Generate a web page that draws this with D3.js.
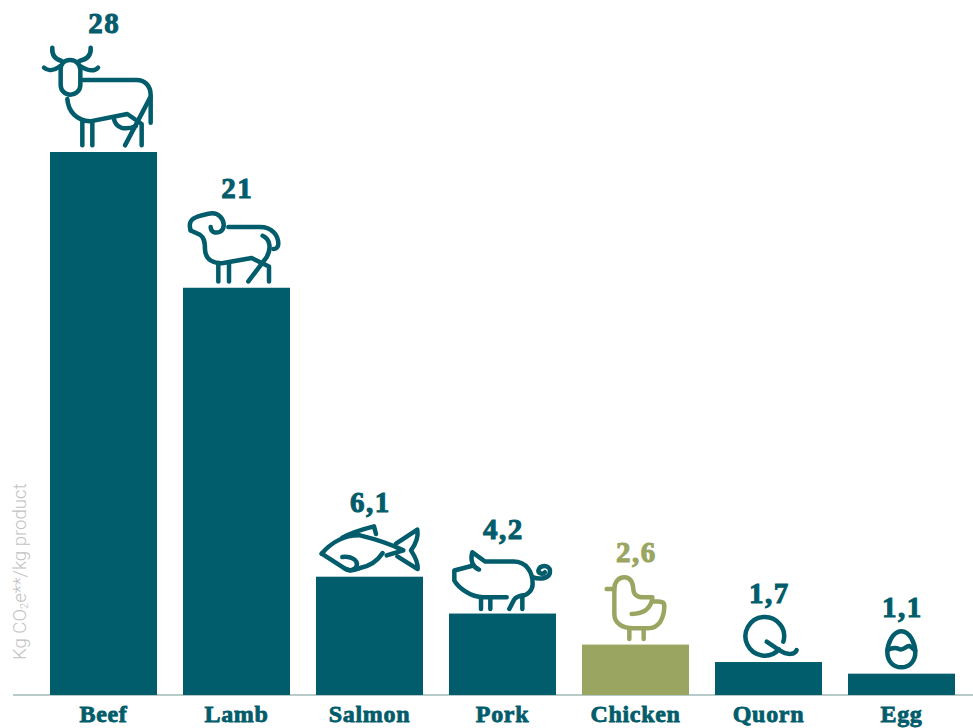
<!DOCTYPE html>
<html>
<head>
<meta charset="utf-8">
<script src="https://cdn.jsdelivr.net/npm/d3@7"></script>
<style>
  html, body { margin: 0; padding: 0; background: #fff; }
  svg { display: block; }
</style>
</head>
<body>
<svg id="chart" width="973" height="728"></svg>
<script>
// Greenhouse gas footprint per kilogram of product
const categories = ["Beef", "Lamb", "Salmon", "Pork", "Chicken", "Quorn", "Egg"];
const footprint = [28, 21, 6.1, 4.2, 2.6, 1.7, 1.1];
const highlighted = ["Chicken"];
const yTitleParts = ["Kg CO", "2", "e**/kg product"];

const TEAL = "#015c6b";
const OLIVE = "#9aa562";

// Pictogram outlines, drawn on a 3x grid and placed relative to each bar's top centre
const icons = {
  Beef: { dx: -73.5, dy: -152, paths: [
    "M120 180C100 180 92 195 92 210V255C92 272 105 284 121 284C137 284 151 272 151 255V210C151 195 140 180 120 180Z",
    "M67 143C65 165 75 178 95 183", "M182 143C184 165 172 178 148 183",
    "M42 203C55 215 75 210 92 197", "M204 203C190 218 170 210 152 199",
    "M152 240H320C345 240 362 258 362 285V368",
    "M112 297C115 335 140 362 180 364L292 342L335 372V436",
    "M285 436L362 290", "M157 364V436", "M187 364V436",
    "M252 358C258 385 285 392 318 378"
  ]},
  Lamb: { dx: -66.5, dy: -118, paths: [
    "M62 182C55 160 62 147 85 140C110 132 135 124 150 140C165 155 165 178 150 186C135 192 122 186 122 172",
    "M62 182L90 195C102 203 105 215 105 240C107 270 130 282 160 280L245 265L297 290V335",
    "M175 172H270C305 172 325 195 325 222C325 232 318 238 310 238",
    "M278 198C300 208 305 235 290 262L235 335",
    "M145 280V335", "M177 280V335"
  ]},
  Salmon: { dx: -59.5, dy: -97, paths: [
    "M35 222C60 192 100 166 150 167C195 178 240 192 280 212L230 227",
    "M97 174C125 158 160 148 192 140L198 163",
    "M258 192L322 150C326 175 316 195 303 212C316 232 325 250 323 268L262 230",
    "M35 222L105 267C120 277 135 270 150 265C185 258 205 240 218 220",
    "M97 232C120 228 145 240 140 258C137 270 118 276 105 267"
  ]},
  Pork: { dx: -192.5, dy: -133, paths: [
    "M507 267C488 260 480 240 487 215L525 243H610C650 243 668 275 668 310C668 330 650 345 637 345V385",
    "M490 255L433 270V300C445 320 480 350 520 350H590",
    "M513 350V385", "M541 350V385",
    "M598 385L612 358C618 348 628 346 640 345",
    "M668 290C690 298 722 295 720 270C718 252 690 252 685 270C685 280 700 282 705 275"
  ]},
  Chicken: { dx: -60.5, dy: -114, paths: [
    "M95 175H118",
    "M232 200H205C185 200 175 190 175 175C175 160 168 140 148 140C130 140 118 155 118 175V250C118 280 145 293 175 293H220C250 293 268 265 268 225C268 215 260 213 250 213H232",
    "M170 250C200 250 225 240 232 205",
    "M163 293V325", "M206 293V325"
  ]},
  Quorn: { dx: -193.5, dy: -132, paths: [
    "M612 358A58 58 0 1 1 625 335",
    "M575 335L615 362C640 378 660 372 665 360"
  ]},
  Egg: { dx: -326.5, dy: -143, paths: [
    "M979 302C1005 302 1021 340 1021 365C1021 392 1003 410 979 410C955 410 937 392 937 365C937 340 953 302 979 302Z",
    "M937 358C950 352 962 350 972 355C985 362 992 345 1003 346C1010 348 1015 355 1021 360"
  ]}
};

const svg = d3.select("#chart");

const x = d3.scaleBand()
  .domain(categories)
  .range([37, 968])
  .paddingInner(26 / 133)
  .paddingOuter(13 / 133);

const y = d3.scaleLinear().domain([0, 28]).range([695, 152]);

const colorOf = name => highlighted.includes(name) ? OLIVE : TEAL;
const rows = categories.map((name, i) => ({ name, value: footprint[i] }));

// Baseline and category labels via the band axis, kept beneath the bars
const axis = svg.append("g")
  .attr("transform", `translate(0,${y(0)})`)
  .call(d3.axisBottom(x).tickSize(0).tickPadding(10));
axis.select(".domain")
  .attr("d", "M13 0H973")
  .attr("stroke", "#b9cbc8")
  .attr("stroke-width", 2);
axis.selectAll("text")
  .attr("y", 27).attr("dy", 0)
  .attr("font-family", "'Liberation Serif', serif")
  .attr("font-weight", 700)
  .attr("font-size", 24)
  .attr("letter-spacing", 0.7)
  .attr("fill", TEAL)
  .attr("stroke", TEAL)
  .attr("stroke-width", 0.8);

// Bars
svg.append("g").selectAll("rect").data(rows).join("rect")
  .attr("x", d => x(d.name))
  .attr("y", d => y(d.value))
  .attr("width", x.bandwidth())
  .attr("height", d => y(0) - y(d.value))
  .attr("fill", d => colorOf(d.name));

// Pictograms resting on the bars
const iconGroups = svg.append("g").selectAll("g").data(rows).join("g")
  .attr("transform", d => {
    const ic = icons[d.name];
    return `translate(${x(d.name) + x.bandwidth() / 2 + ic.dx},${y(d.value) + ic.dy}) scale(${1 / 3})`;
  })
  .attr("fill", "none")
  .attr("stroke", d => colorOf(d.name))
  .attr("stroke-width", 13.5)
  .attr("stroke-linecap", "round")
  .attr("stroke-linejoin", "round");
iconGroups.selectAll("path").data(d => icons[d.name].paths).join("path").attr("d", d => d);

// Value labels use a decimal comma
const labelOffset = { Beef: 119, Lamb: 90, Salmon: 65, Pork: 75, Chicken: 83, Quorn: 59, Egg: 57 };
const fmt = v => String(v).replace(".", ",");
svg.append("g").selectAll("text").data(rows).join("text")
  .attr("x", d => x(d.name) + x.bandwidth() / 2 + 0.75)
  .attr("y", d => y(d.value) - labelOffset[d.name])
  .attr("text-anchor", "middle")
  .attr("font-family", "'Liberation Serif', serif")
  .attr("font-weight", 700)
  .attr("font-size", 29)
  .attr("letter-spacing", 1.5)
  .attr("fill", d => colorOf(d.name))
  .attr("stroke", d => colorOf(d.name))
  .attr("stroke-width", 1)
  .text(d => fmt(d.value));

// Rotated unit title
const title = svg.append("text")
  .attr("transform", "translate(26,660) rotate(-90)")
  .attr("font-family", "Roboto, sans-serif")
  .attr("font-weight", 300)
  .attr("font-size", 18.6)
  .attr("fill", "#c2c2c2");
title.append("tspan").text(yTitleParts[0]);
title.append("tspan").attr("font-size", 11).attr("dy", 2).text(yTitleParts[1]);
title.append("tspan").attr("dy", -2).text(yTitleParts[2]);
</script>
</body>
</html>
